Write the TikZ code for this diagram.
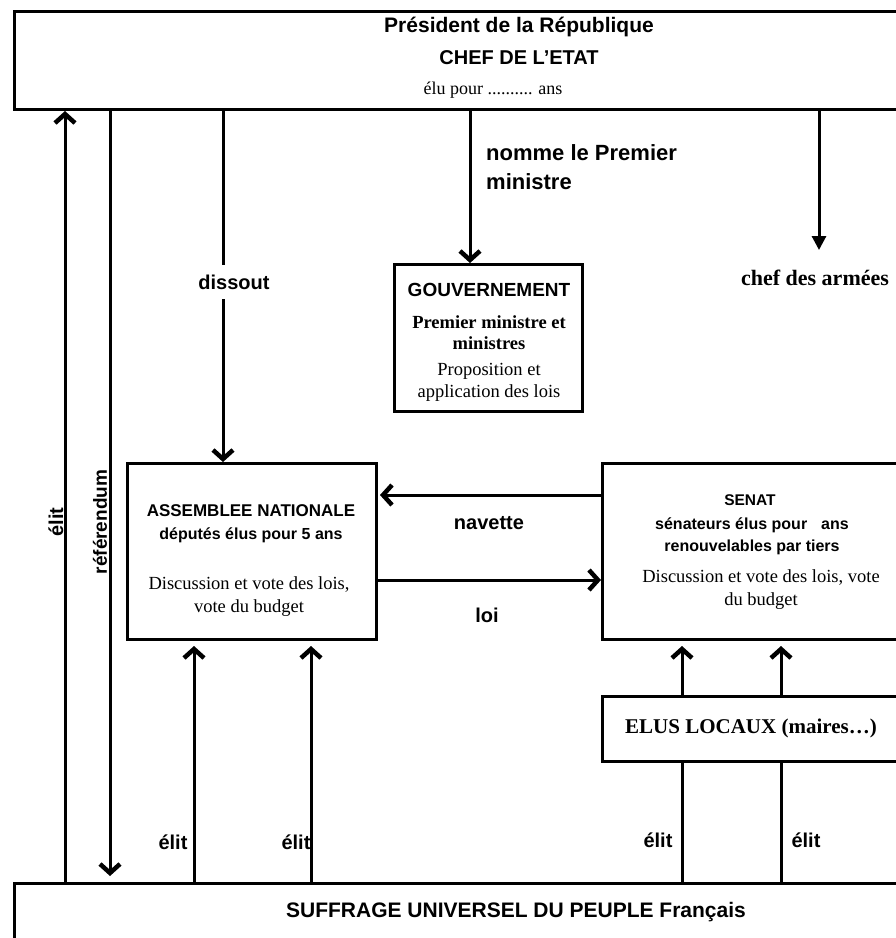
\documentclass[tikz,border=0pt]{standalone}
\usepackage{fontspec}
\setmainfont{Liberation Serif}
\setsansfont{Liberation Sans}
\usetikzlibrary{arrows.meta,calc}

\begin{document}
\begin{tikzpicture}[x=1pt,y=-1pt,
  box/.style={draw,line width=3pt,anchor=north west,inner sep=0pt},
  sanslbl/.style={font=\sffamily\bfseries\fontsize{20}{24}\selectfont,inner sep=2pt},
  seriflbl/.style={font=\fontsize{18.5}{23}\selectfont,inner sep=2pt,align=center},
  link/.style={line width=3pt},
  barb/.style={link,-{Straight Barb[length=9pt,width=20pt,line width=4.5pt]}},
  tri/.style={link,-{Triangle[length=14pt,width=14pt]}}]
\useasboundingbox (0,0) rectangle (896,938);
\fill[white] (0,0) rectangle (896,938);
\clip (0,0) rectangle (896,938);

% boxes
\node[box,minimum width=907pt,minimum height=98pt] (pres) at (13,10) {};
\node[box,minimum width=188pt,minimum height=147pt] (gouv) at (393,263) {};
\node[box,minimum width=249pt,minimum height=176pt] (an) at (126,462) {};
\node[box,minimum width=319pt,minimum height=176pt] (senat) at (601,462) {};
\node[box,minimum width=319pt,minimum height=65pt] (elus) at (601,695) {};
\node[box,minimum width=907pt,minimum height=78pt] (peuple) at (13,882) {};

% x and y of the links
\coordinate (xElit) at (65,0);
\coordinate (xRef) at (110,0);
\coordinate (xDis) at (223,0);
\coordinate (xNom) at (470,0);
\coordinate (xAnA) at (194,0);
\coordinate (xAnB) at (311,0);
\coordinate (xSeA) at (682,0);
\coordinate (xSeB) at (781,0);
\coordinate (yNav) at (0,495);
\coordinate (yLoi) at (0,580);
\coordinate (chefTip) at (819,250);

% texts
\node[sanslbl,font=\sffamily\bfseries\fontsize{21}{24}\selectfont] (presA) at (519,27) {Président de la République};
\node[sanslbl] (presB) at (519,58) {CHEF DE L'ETAT};
\node[seriflbl,font=\fontsize{18}{22}\selectfont] (presC) at (493,90) {élu pour .......... ans};
\node[sanslbl,font=\sffamily\bfseries\fontsize{22}{29}\selectfont,align=left,anchor=west] (nomme) at (484,167) {nomme le Premier\\ministre};
\node[seriflbl,font=\bfseries\fontsize{22}{26}\selectfont] (chef) at (815,278) {chef des armées};

\node[sanslbl,font=\sffamily\bfseries\fontsize{19}{22}\selectfont] (gouvT) at (489,290) {GOUVERNEMENT};
\node[seriflbl,font=\bfseries\fontsize{18.5}{21}\selectfont] (gouvM) at (489,333) {Premier ministre et\\ministres};
\node[seriflbl,font=\fontsize{18.5}{22}\selectfont] (gouvP) at (489,382) {Proposition et\\application des lois};

\node[sanslbl,font=\sffamily\bfseries\fontsize{17}{20}\selectfont] (anT) at (251,511) {ASSEMBLEE NATIONALE};
\node[sanslbl,font=\sffamily\bfseries\fontsize{16}{20}\selectfont] (anD) at (251,535) {députés élus pour 5 ans};
\node[seriflbl] (anV) at (249,597) {Discussion et vote des lois,\\vote du budget};

\node[sanslbl,font=\sffamily\bfseries\fontsize{15.5}{20}\selectfont] (senT) at (750,500) {SENAT};
\node[sanslbl,font=\sffamily\bfseries\fontsize{16}{22}\selectfont,align=center] (senD) at (752,536) {sénateurs élus pour\hspace{14pt}ans\\renouvelables par tiers};
\node[seriflbl] (senV) at (761,590) {Discussion et vote des lois, vote\\du budget};

\node[seriflbl,font=\bfseries\fontsize{21}{24}\selectfont] (elusT) at (751,728) {ELUS LOCAUX (maires…)};
\node[sanslbl,font=\sffamily\bfseries\fontsize{21}{24}\selectfont] (peupleT) at (516,912) {SUFFRAGE UNIVERSEL DU PEUPLE Français};

% links
\draw[barb] (peuple.north -| xElit) -- (pres.south -| xElit);
\draw[barb,shorten >=6pt] (pres.south -| xRef) -- (peuple.north -| xRef);
\draw[barb] (pres.south -| xDis) -- (an.north -| xDis);
\node[sanslbl,fill=white,inner ysep=10pt] (dissout) at (234,282) {dissout};
\draw[barb] (pres.south -| xNom) -- (gouv.north -| xNom);
\draw[tri] (pres.south -| chefTip) -- (chefTip);
\draw[barb,shorten >=2pt] (senat.west |- yNav) -- (an.east |- yNav);
\draw[barb] (an.east |- yLoi) -- (senat.west |- yLoi);
\draw[barb,shorten >=5pt] (peuple.north -| xAnA) -- (an.south -| xAnA);
\draw[barb,shorten >=5pt] (peuple.north -| xAnB) -- (an.south -| xAnB);
\draw[barb,shorten >=5pt] (elus.north -| xSeA) -- (senat.south -| xSeA);
\draw[barb,shorten >=5pt] (elus.north -| xSeB) -- (senat.south -| xSeB);
\draw[link] (peuple.north -| xSeA) -- (elus.south -| xSeA);
\draw[link] (peuple.north -| xSeB) -- (elus.south -| xSeB);

% link labels
\node[sanslbl,rotate=90] (elitP) at (56,522) {élit};
\node[sanslbl,font=\sffamily\bfseries\fontsize{19}{22}\selectfont,rotate=90] (refer) at (100,522) {référendum};
\node[sanslbl] (navette) at (489,523) {navette};
\node[sanslbl] (loi) at (487,615) {loi};
\node[sanslbl] (elitA) at (173,842) {élit};
\node[sanslbl] (elitB) at (296,842) {élit};
\node[sanslbl] (elitC) at (658,840) {élit};
\node[sanslbl] (elitD) at (806,840) {élit};
\end{tikzpicture}
\end{document}
